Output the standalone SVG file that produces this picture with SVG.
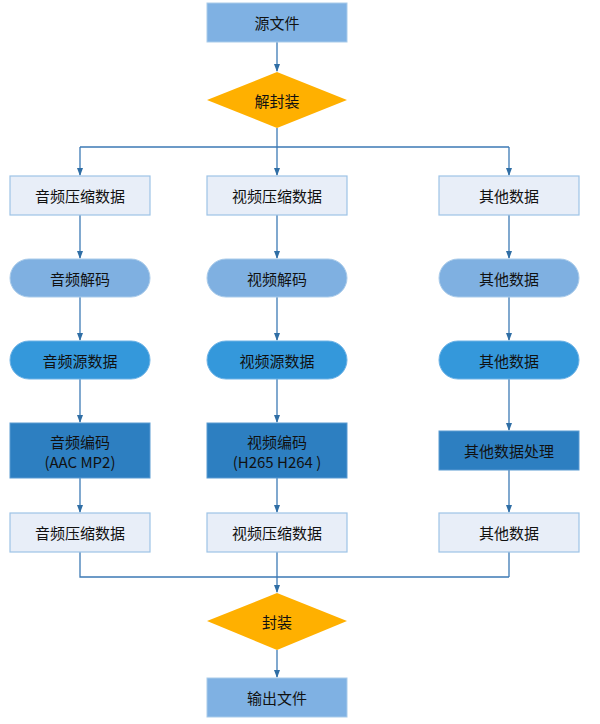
<svg xmlns="http://www.w3.org/2000/svg" width="600" height="724" viewBox="0 0 600 724">
<defs>
<marker id="ah" markerWidth="8" markerHeight="6" refX="7" refY="3" orient="auto" markerUnits="userSpaceOnUse">
<path d="M0,0 L8,3 L0,6 z" fill="#2F6EA5"/>
</marker>
<style>
text{font-family:"Microsoft YaHei","Noto Sans CJK SC",sans-serif;font-size:15px;fill:#111;text-anchor:middle;dominant-baseline:central}
.c{fill:none;stroke:#3D7AB5;stroke-width:1.3}
.src{fill:#7FB1E3;stroke:#A9CBEA;stroke-width:1}
.lt{fill:#E8EEF8;stroke:#9DC3E6;stroke-width:1.2}
.p1{fill:#7FB0E1;stroke:#A9CBEA;stroke-width:1}
.p2{fill:#3498DB;stroke:#6CB2E6;stroke-width:1}
.dk{fill:#2D7FC1;stroke:#5A9BD2;stroke-width:1}
.dm{fill:#FFB000}
</style>
</defs>
<rect width="600" height="724" fill="#fff"/>
<g id="connectors">
<path class="c" d="M277,42 V71" marker-end="url(#ah)"/>
<path class="c" d="M277,128 V147 M80,147 H509"/>
<path class="c" d="M80,147 V175" marker-end="url(#ah)"/>
<path class="c" d="M277,147 V175" marker-end="url(#ah)"/>
<path class="c" d="M509,147 V175" marker-end="url(#ah)"/>
<path class="c" d="M80,215 V258" marker-end="url(#ah)"/>
<path class="c" d="M277,215 V258" marker-end="url(#ah)"/>
<path class="c" d="M509,215 V258" marker-end="url(#ah)"/>
<path class="c" d="M80,297 V340" marker-end="url(#ah)"/>
<path class="c" d="M277,297 V340" marker-end="url(#ah)"/>
<path class="c" d="M509,297 V340" marker-end="url(#ah)"/>
<path class="c" d="M80,379 V422" marker-end="url(#ah)"/>
<path class="c" d="M277,379 V422" marker-end="url(#ah)"/>
<path class="c" d="M509,379 V430" marker-end="url(#ah)"/>
<path class="c" d="M80,478 V512" marker-end="url(#ah)"/>
<path class="c" d="M277,478 V512" marker-end="url(#ah)"/>
<path class="c" d="M509,470 V512" marker-end="url(#ah)"/>
<path class="c" d="M80,552 V577 H509 M509,552 V577"/>
<path class="c" d="M277,552 V592" marker-end="url(#ah)"/>
<path class="c" d="M277,650 V677" marker-end="url(#ah)"/>
</g>
<g id="src"><rect class="src" x="207" y="3" width="140" height="39"/><text x="277" y="22.5">源文件</text></g>
<g id="demux"><polygon class="dm" points="207,100 277,72 347,100 277,128"/><text x="277" y="100">解封装</text></g>
<g id="a1"><rect class="lt" x="10" y="176" width="140" height="39"/><text x="80" y="195.5">音频压缩数据</text></g>
<g id="v1"><rect class="lt" x="207" y="176" width="140" height="39"/><text x="277" y="195.5">视频压缩数据</text></g>
<g id="o1"><rect class="lt" x="439" y="176" width="140" height="39"/><text x="509" y="195.5">其他数据</text></g>
<g id="a2"><rect class="p1" x="10" y="259" width="140" height="38" rx="19"/><text x="80" y="278">音频解码</text></g>
<g id="v2"><rect class="p1" x="207" y="259" width="140" height="38" rx="19"/><text x="277" y="278">视频解码</text></g>
<g id="o2"><rect class="p1" x="439" y="259" width="140" height="38" rx="19"/><text x="509" y="278">其他数据</text></g>
<g id="a3"><rect class="p2" x="10" y="341" width="140" height="38" rx="19"/><text x="80" y="360">音频源数据</text></g>
<g id="v3"><rect class="p2" x="207" y="341" width="140" height="38" rx="19"/><text x="277" y="360">视频源数据</text></g>
<g id="o3"><rect class="p2" x="439" y="341" width="140" height="38" rx="19"/><text x="509" y="360">其他数据</text></g>
<g id="a4"><rect class="dk" x="10" y="423" width="140" height="55"/><text x="80" y="441">音频编码</text><text x="80" y="461">(AAC MP2)</text></g>
<g id="v4"><rect class="dk" x="207" y="423" width="140" height="55"/><text x="277" y="441">视频编码</text><text x="277" y="461">(H265 H264 )</text></g>
<g id="o4"><rect class="dk" x="439" y="431" width="140" height="39"/><text x="509" y="450.5">其他数据处理</text></g>
<g id="a5"><rect class="lt" x="10" y="513" width="140" height="39"/><text x="80" y="532.5">音频压缩数据</text></g>
<g id="v5"><rect class="lt" x="207" y="513" width="140" height="39"/><text x="277" y="532.5">视频压缩数据</text></g>
<g id="o5"><rect class="lt" x="439" y="513" width="140" height="39"/><text x="509" y="532.5">其他数据</text></g>
<g id="mux"><polygon class="dm" points="207,621 277,593 347,621 277,650"/><text x="277" y="621">封装</text></g>
<g id="out"><rect class="src" x="207" y="678" width="140" height="39"/><text x="277" y="697.5">输出文件</text></g>
</svg>
